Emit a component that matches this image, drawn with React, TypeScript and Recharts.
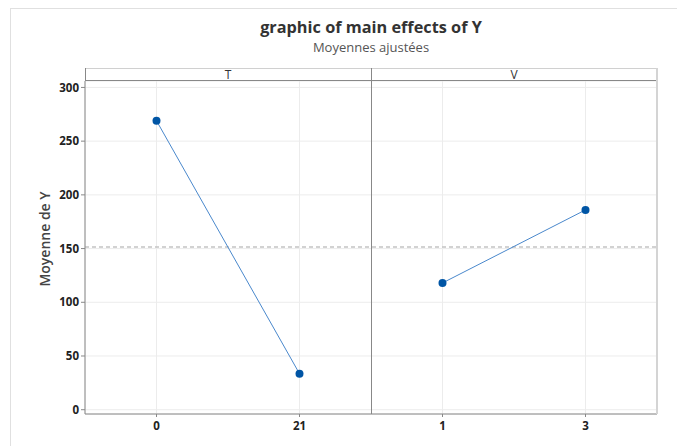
import { LineChart, Line, XAxis, YAxis, CartesianGrid, ReferenceLine } from "recharts";

// factor levels along the x axis (T panel, then V panel)
const levels = ["0", "21", "1", "3"];
const meansT = [269, 33.5, null, null];
const meansV = [null, null, 118, 186];
const grandMean = 151.5;
const yTicks = [0, 50, 100, 150, 200, 250, 300];
const panels = ["T", "V"];

const data = levels.map((lv, i) => ({ level: lv, T: meansT[i], V: meansV[i] }));

const W = 677, H = 446;
const PLOT_L = 85, PLOT_R = 657, PLOT_T = 81, PLOT_B = 414, STRIP_T = 68;
const font = "'Open Sans', 'Noto Sans', sans-serif";

export default function App() {
  const panelW = (PLOT_R - PLOT_L) / panels.length;
  const edgePad = (PLOT_R - PLOT_L) / levels.length / 2;
  return (
    <div style={{ position: "absolute", left: 0, top: 0, width: W, height: H, background: "#fff", fontFamily: font, overflow: "hidden" }}>
      <div style={{ position: "absolute", left: 10, top: 8, width: W, height: H, border: "1px solid #e0e0e0" }} />
      <div style={{ position: "absolute", left: 0, width: 742, top: 16, textAlign: "center", fontSize: 16.3, fontWeight: 700, color: "#333" }}>
        graphic of main effects of Y
      </div>
      <div style={{ position: "absolute", left: 0, width: 742, top: 38, textAlign: "center", fontSize: 13, color: "#555" }}>
        Moyennes ajustées
      </div>
      <LineChart width={W} height={H} data={data} margin={{ top: PLOT_T, right: W - PLOT_R, left: PLOT_L - 40, bottom: 2 }}>
        <CartesianGrid stroke="#ececec" />
        <XAxis dataKey="level" height={H - PLOT_B - 2} stroke="#888" tickSize={3} padding={{ left: edgePad, right: edgePad }}
          tick={{ fill: "#222", fontSize: 11.5, fontWeight: 700, fontFamily: font, dy: 3 }} />
        <YAxis width={40} domain={[-4, 306]} ticks={yTicks} stroke="#888" tickSize={4} allowDataOverflow
          tick={{ fill: "#222", fontSize: 11.5, fontWeight: 700, fontFamily: font }} />
        <ReferenceLine y={grandMean} stroke="#c4c4c4" strokeDasharray="4 3" strokeWidth={1.5} />
        <Line dataKey="T" stroke="#4a88cc" strokeWidth={1} dot={{ r: 4, fill: "#0055a5", stroke: "#0055a5", strokeWidth: 0 }} isAnimationActive={false} connectNulls={false} />
        <Line dataKey="V" stroke="#4a88cc" strokeWidth={1} dot={{ r: 4, fill: "#0055a5", stroke: "#0055a5", strokeWidth: 0 }} isAnimationActive={false} connectNulls={false} />
      </LineChart>
      {/* strip header and frame */}
      <div style={{ position: "absolute", left: PLOT_L, top: STRIP_T, width: PLOT_R - PLOT_L, height: PLOT_T - STRIP_T, borderTop: "1px solid #d0d0d0", borderBottom: "1px solid #888", boxSizing: "border-box" }} />
      <div style={{ position: "absolute", left: PLOT_R - 1, top: STRIP_T, width: 2, height: PLOT_B - STRIP_T, background: "#d4d4d4" }} />
      <div style={{ position: "absolute", left: PLOT_L, top: STRIP_T, width: 1, height: PLOT_T - STRIP_T, background: "#888" }} />
      {panels.map((p, i) => (
        <div key={p} style={{ position: "absolute", left: PLOT_L + i * panelW, width: panelW, top: STRIP_T - 2, textAlign: "center", fontSize: 12, color: "#333" }}>{p}</div>
      ))}
      {panels.slice(1).map((p, i) => (
        <div key={p} style={{ position: "absolute", left: PLOT_L + (i + 1) * panelW, top: STRIP_T, width: 1, height: PLOT_B - STRIP_T, background: "#888" }} />
      ))}
      <div style={{ position: "absolute", left: 44, top: 239, transform: "translate(-50%, -50%) rotate(-90deg)", whiteSpace: "nowrap", fontSize: 14, fontWeight: 600, color: "#444" }}>
        Moyenne de Y
      </div>
    </div>
  );
}
